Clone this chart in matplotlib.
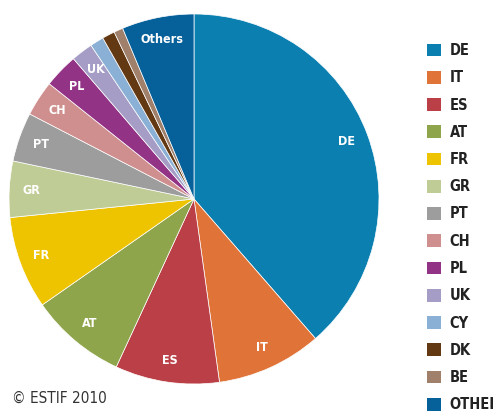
import matplotlib
matplotlib.use("Agg")
import matplotlib.pyplot as plt
import matplotlib.font_manager as fm
from matplotlib.patches import Patch

countries = ["DE", "IT", "ES", "AT", "FR", "GR", "PT", "CH", "PL", "UK", "CY", "DK", "BE", "Others"]
legend_names = ["DE", "IT", "ES", "AT", "FR", "GR", "PT", "CH", "PL", "UK", "CY", "DK", "BE", "OTHERS"]
shares = [38.6, 9.2, 9.1, 8.4, 8.1, 4.9, 4.3, 3.1, 3.0, 1.9, 1.2, 1.1, 0.8, 6.3]
colors = ["#0a7fb0", "#e07337", "#bb3f47", "#8fa54b", "#eec400", "#bfcc96", "#9d9d9e",
          "#cf8f8e", "#933386", "#a59dc5", "#8bb0d6", "#633913", "#a0806a", "#06609a"]
# small slices carry no label inside the pie
slice_labels = [c if c not in ("CY", "DK", "BE") else "" for c in countries]

# look for a narrow / condensed face, the original uses a condensed grotesk
narrow = [f for f in fm.fontManager.ttflist
          if f.style == "normal"
          and ("Narrow" in f.name or "Condensed" in f.name
               or "condensed" in str(f.stretch) or (isinstance(f.stretch, int) and f.stretch < 500))]
narrow_bold = [f for f in narrow if f.weight in ("bold", 700)]
narrow_reg = [f for f in narrow if f.weight in ("normal", "regular", 400)]

if narrow_bold:
    bold_fp = fm.FontProperties(fname=narrow_bold[0].fname)
else:
    bold_fp = fm.FontProperties(family="Liberation Sans", weight="bold")
if narrow_reg:
    reg_fp = fm.FontProperties(fname=narrow_reg[0].fname)
else:
    reg_fp = bold_fp.copy()
found = bool(narrow_bold)

fig = plt.figure(figsize=(4.93, 4.17), dpi=100)
ax = fig.add_axes([9 / 493, 33 / 417, 370 / 493, 370 / 417])

wedges, texts = ax.pie(shares, colors=colors, labels=slice_labels, startangle=90,
                       counterclock=False, labeldistance=0.88,
                       wedgeprops=dict(edgecolor="white", linewidth=0.5))
for t in texts:
    t.set_fontproperties(bold_fp)
    t.set_fontsize(9 if found else 7.5)
    t.set_ha("center")
    t.set_va("center")
    t.set_color("white")
ax.set_xlim(-1, 1)
ax.set_ylim(-1, 1)

leg_fp = bold_fp.copy()
leg_fp.set_size(10.5 if found else 9)
handles = [Patch(facecolor=c, edgecolor="none") for c in colors]
fig.legend(handles, legend_names, loc="upper left", bbox_to_anchor=(427 / 493, 1 - 43 / 417),
           frameon=False, prop=leg_fp, handlelength=0.95, handleheight=0.95,
           labelspacing=0.84, handletextpad=0.6, borderaxespad=0, borderpad=0,
           labelcolor="#222222")

cp_fp = reg_fp.copy()
cp_fp.set_size(11 if found else 9.5)
fig.text(12 / 493, 1 - 398 / 417, "\u00a9 ESTIF 2010", fontproperties=cp_fp, color="#333333",
         va="center", ha="left")

fig.savefig("out.png", dpi=100)
